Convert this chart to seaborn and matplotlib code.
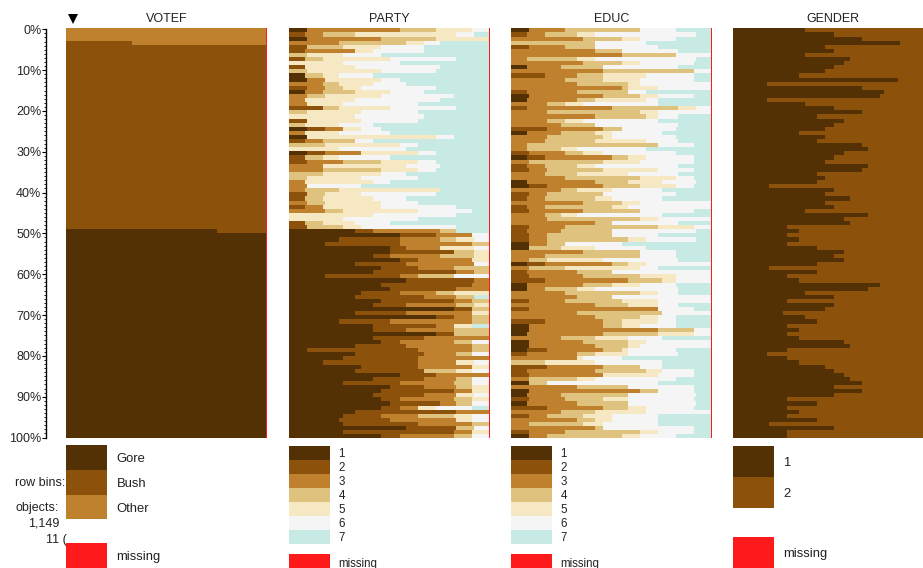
import pandas as pd
import seaborn as sns
import matplotlib.pyplot as plt
from matplotlib.patches import Rectangle

# Cumulative share (%) of the categories 1..6 in each of the 100 row bins, 7 fills the rest
party_cum = [
    [9,9,55,73,91,100],[0,8,17,33,83,92],[9,9,46,73,100,100],[0,0,25,58,67,75],[0,9,9,27,46,67],
    [0,8,33,33,42,67],[0,0,0,9,27,46],[0,8,8,17,50,83],[0,0,0,0,27,55],[0,8,8,8,33,75],
    [0,0,0,9,46,73],[8,8,8,17,25,42],[9,9,18,18,46,55],[0,0,17,25,42,58],[0,9,18,27,36,73],
    [8,8,17,33,50,67],[0,0,9,18,46,82],[0,0,8,8,33,75],[0,0,9,9,27,64],[0,17,17,25,50,83],
    [0,0,0,9,36,64],[0,0,0,0,33,67],[0,9,9,9,36,64],[0,0,0,8,25,42],[9,18,27,27,36,46],
    [0,0,8,8,25,50],[9,9,9,9,73,82],[0,8,17,33,33,42],[0,0,0,18,55,64],[0,0,0,0,25,58],
    [9,18,36,36,64,73],[0,8,8,17,25,50],[0,9,27,46,64,73],[0,0,17,17,58,75],[0,0,17,46,64,73],
    [0,0,0,17,46,58],[0,0,0,9,36,64],[0,0,8,8,42,50],[0,0,9,9,9,36],[0,0,8,25,75,75],
    [0,9,9,18,36,73],[0,8,8,17,42,58],[0,0,9,18,46,64],[0,8,17,17,46,83],[0,0,18,27,64,91],
    [0,0,0,0,42,83],[0,0,0,0,27,64],[0,8,8,17,33,50],[0,9,9,27,36,83],[33,42,75,83,83,83],
    [55,73,91,91,91,100],[25,55,75,83,92,100],[18,55,91,100,100,100],[50,58,75,75,92,100],[50,82,82,92,100,100],
    [42,50,75,92,100,100],[55,64,91,91,100,100],[33,58,92,92,92,100],[46,64,82,100,100,100],[42,83,92,100,100,100],
    [18,55,64,82,82,100],[58,92,100,100,100,100],[46,91,100,100,100,100],[50,83,100,100,100,100],[36,55,73,82,100,100],
    [33,67,83,92,92,92],[46,82,91,100,100,100],[42,58,83,92,100,100],[82,91,91,100,100,100],[33,58,91,91,100,100],
    [73,82,91,100,100,100],[25,50,91,100,100,100],[42,73,82,82,91,91],[42,58,82,100,100,100],[73,82,82,100,100,100],
    [42,67,100,100,100,100],[46,55,82,91,91,100],[33,58,91,100,100,100],[9,64,91,100,100,100],[33,67,83,91,91,100],
    [27,64,100,100,100,100],[17,64,83,83,92,100],[36,64,91,91,100,100],[33,67,67,83,91,100],[55,73,100,100,100,100],
    [42,67,83,91,91,100],[27,55,82,91,91,100],[50,67,83,91,100,100],[46,82,91,91,100,100],[42,67,83,83,92,100],
    [46,55,82,91,100,100],[50,75,83,91,91,100],[46,55,64,64,73,91],[33,83,100,100,100,100],[27,46,64,82,91,100],
    [25,50,83,83,91,100],[27,64,91,100,100,100],[58,83,83,92,92,100],[27,82,91,91,100,100],[46,55,82,91,91,100],
]

educ_cum = [
    [9,9,27,64,64,82],[0,8,17,33,42,92],[0,0,36,55,64,82],[0,0,0,42,42,67],[0,9,27,42,42,73],
    [0,0,42,55,55,83],[0,0,55,82,82,100],[0,0,8,33,42,92],[0,0,36,55,64,91],[8,8,25,46,46,83],
    [0,0,46,91,91,100],[0,17,33,46,67,91],[0,0,27,46,64,91],[0,0,33,58,64,100],[0,0,55,58,73,100],
    [0,8,33,58,58,67],[9,9,46,64,73,91],[8,8,33,42,67,73],[0,0,18,27,36,73],[0,8,50,83,92,100],
    [0,0,18,64,73,100],[0,0,42,67,73,83],[0,0,18,27,36,73],[0,0,25,42,42,83],[0,18,46,55,55,82],
    [8,8,25,42,50,75],[0,0,18,46,50,82],[0,0,17,42,67,83],[0,0,8,73,73,91],[0,0,8,25,33,67],
    [0,9,27,36,46,82],[8,17,50,58,67,91],[0,0,9,46,64,91],[0,8,17,33,42,83],[0,9,18,46,73,91],
    [0,0,17,33,58,83],[0,0,27,64,82,91],[8,8,42,58,75,92],[9,18,46,64,82,91],[0,0,25,33,50,75],
    [0,9,18,46,46,82],[0,8,17,42,50,75],[0,0,36,55,64,100],[0,8,17,50,58,100],[0,9,36,64,64,91],
    [0,0,17,25,33,75],[0,0,18,64,73,100],[0,0,42,50,50,83],[0,9,27,73,91,100],[0,8,25,50,50,92],
    [0,9,18,50,50,73],[0,9,18,58,67,92],[9,9,18,27,27,55],[9,9,9,25,42,67],[0,0,36,64,64,82],
    [0,0,17,64,64,82],[0,0,9,18,46,83],[8,17,50,58,67,100],[0,0,9,27,64,73],[0,8,33,50,50,100],
    [0,9,36,64,82,100],[0,17,58,75,82,100],[8,8,36,50,64,82],[8,8,17,33,42,83],[0,0,27,64,73,83],
    [0,0,33,50,50,100],[0,9,27,55,73,100],[0,0,42,58,73,83],[0,9,73,73,73,91],[0,0,33,75,75,100],
    [0,0,42,64,73,82],[0,17,46,55,73,82],[9,9,46,55,64,82],[9,9,73,91,91,100],[8,8,46,73,91,100],
    [0,0,25,42,58,75],[9,9,36,58,67,100],[9,9,42,58,64,100],[8,18,46,55,58,82],[0,8,33,42,58,83],
    [0,0,33,33,36,55],[0,0,0,17,42,75],[0,18,46,64,64,75],[0,8,42,67,75,91],[0,9,46,46,73,91],
    [0,0,9,33,42,82],[9,9,9,18,18,73],[0,0,33,58,58,91],[9,9,64,73,73,91],[8,8,25,58,58,92],
    [0,9,27,46,58,91],[8,8,33,58,58,92],[0,18,46,58,67,91],[0,0,25,42,67,100],[0,9,18,36,50,73],
    [0,0,33,42,50,73],[0,0,9,36,46,73],[0,0,42,46,46,91],[0,9,27,64,73,91],[9,9,18,55,64,82],
]

gender_1 = [
    36,50,64,83,46,50,36,58,55,50,46,33,82,17,64,75,73,17,36,50,
    64,42,55,50,46,33,46,42,64,67,55,50,46,67,64,42,46,42,18,50,
    46,58,46,50,36,67,55,58,27,33,27,33,27,42,55,50,55,42,18,42,
    27,33,73,67,36,50,27,50,46,25,36,42,27,33,27,33,55,58,27,17,
    27,33,46,50,55,58,64,50,64,50,27,42,27,33,27,42,18,50,27,27,
]

votef_gore = [0]*49 + [75] + [100]*50
votef_bush = [0]*3 + [33] + [100]*96

votef_cum = [[g, b, 100] for g, b in zip(votef_gore, votef_bush)]
gender_cum = [[g, 100] for g in gender_1]

votef_labels = ['Gore', 'Bush', 'Other']
scale_labels = ['1', '2', '3', '4', '5', '6', '7']
gender_labels = ['1', '2']
columns = ['VOTEF', 'PARTY', 'EDUC', 'GENDER']
missing_share = 0.6

brbg = ['#543005', '#8c510a', '#bf812d', '#dfc27d', '#f6e8c3', '#f5f5f5', '#c7eae5']
red = '#fe1a1a'

sns.set_theme(style='white')
plt.rcParams['font.family'] = ['Liberation Sans', 'DejaVu Sans']
plt.rcParams['text.color'] = '#222222'

W, H = 923, 568
fig = plt.figure(figsize=(W / 100, H / 100), dpi=100)

panel_x = [66, 289, 511, 733]
panel_w = 201
top, bottom = 28.37, 438.37


def px_axes(x0, y0, x1, y1):
    return fig.add_axes([x0 / W, 1 - y1 / H, (x1 - x0) / W, (y1 - y0) / H])


def draw_panel(ax, cum_rows, colors, missing=True):
    df = pd.DataFrame(cum_rows)
    df['bin'] = range(len(df))
    # back to front, so every bar shows only its own category
    if df.shape[1] - 1 < len(colors):
        df[df.shape[1] - 1] = 100
    sns.barplot(data=df, x=[100] * len(df), y='bin', orient='y', native_scale=True,
                width=1, color=colors[-1], saturation=1, errorbar=None, linewidth=0, ax=ax)
    for i in range(len(colors) - 2, -1, -1):
        sns.barplot(data=df, x=i, y='bin', orient='y', native_scale=True,
                    width=1, color=colors[i], saturation=1, errorbar=None, linewidth=0, ax=ax)
    if missing:
        ax.barh(df['bin'], [missing_share] * len(df), left=100 - missing_share,
                height=1, color=red, linewidth=0)
    ax.set_xlim(0, 100)
    ax.set_ylim(99.5, -0.5)
    ax.axis('off')


panels = [(votef_cum, brbg[:3]), (party_cum, brbg), (educ_cum, brbg), (gender_cum, brbg[:2])]
for name, x0, (cum, cols) in zip(columns, panel_x, panels):
    ax = px_axes(x0, top, x0 + panel_w, bottom)
    draw_panel(ax, cum, cols)
    fig.text((x0 + panel_w / 2 + (0 if name != 'GENDER' else -1)) / W, 1 - 18 / H, name,
             ha='center', va='center_baseline', fontsize=9)

# percentage axis on the left
ax_y = px_axes(45.5, 29.3, 46, 437.5)
ax_y.set_ylim(100, 0)
ax_y.set_xticks([])
ax_y.set_yticks(range(0, 101, 10))
ax_y.set_yticks(range(0, 101), minor=True)
ax_y.set_yticklabels([f'{v}%' for v in range(0, 101, 10)], fontsize=9)
ax_y.tick_params(axis='y', which='major', length=3, width=0.8, color='black', pad=0, left=True)
ax_y.tick_params(axis='y', which='minor', length=1.5, width=0.6, color='black', left=True)
for side in ['top', 'right', 'bottom']:
    ax_y.spines[side].set_visible(False)
ax_y.spines['left'].set_linewidth(1)
ax_y.spines['left'].set_color('black')
ax_y.patch.set_alpha(0)

# overlay in pixel units for legends and side notes
over = fig.add_axes([0, 0, 1, 1])
over.set_xlim(0, W)
over.set_ylim(H, 0)
over.axis('off')
over.patch.set_alpha(0)
over.plot([73], [18.5], marker='v', color='black', markersize=7.5, linestyle='none', markeredgewidth=0)


def legend(x0, labels, colors, y0, step, miss_y, size, dx):
    for i, (lab, col) in enumerate(zip(labels, colors)):
        over.add_patch(Rectangle((x0, y0 + i * step), 41, step, color=col, linewidth=0))
        over.text(x0 + dx, y0 + (i + 0.5) * step, lab, va='center_baseline', ha='left', fontsize=size)
    over.add_patch(Rectangle((x0, miss_y), 41, H - miss_y, color=red, linewidth=0))
    over.text(x0 + dx, (miss_y + H) / 2 + (0 if x0 == 66 or x0 == 733 else 1), 'missing',
              va='center_baseline', ha='left', fontsize=size)


legend(panel_x[0], votef_labels, brbg[:3], 445.3, 24.7, 543.3, 9.4, 50.5)
legend(panel_x[1], scale_labels, brbg, 445.5, 14, 554, 8.3, 49.5)
legend(panel_x[2], scale_labels, brbg, 445.5, 14, 554, 8.3, 49.5)
legend(panel_x[3], gender_labels, brbg[:2], 445.5, 31.2, 537, 9.4, 50.5)

over.text(15, 482, 'row bins:', va='center_baseline', ha='left', fontsize=9)
over.text(15, 506, 'objects:', va='center_baseline', ha='left', fontsize=9)
over.text(59, 522, '1,149', va='center_baseline', ha='right', fontsize=9)
over.text(67, 538, '11 (', va='center_baseline', ha='right', fontsize=9)

fig.savefig('out.png', dpi=100)
